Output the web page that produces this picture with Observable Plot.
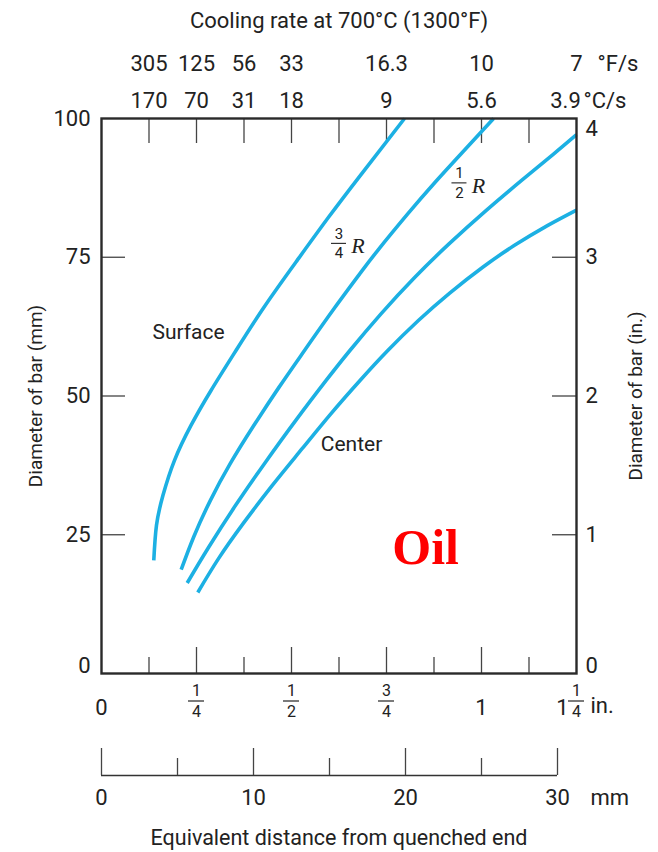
<!DOCTYPE html>
<html>
<head>
<meta charset="utf-8">
<script src="https://cdn.jsdelivr.net/npm/d3@7"></script>
<script src="https://cdn.jsdelivr.net/npm/@observablehq/plot@0.6"></script>
<style>
  body { margin: 0; background: #fff; }
  #chart svg { display: block; }
</style>
</head>
<body>
<div id="chart"></div>
<script>
// ---- Curve data: x = equivalent distance (in.), y = bar diameter (mm) ----
const surfaceX = [0.1376, 0.1447, 0.1618, 0.1921, 0.2355, 0.2882, 0.3539, 0.4276, 0.5145, 0.5974, 0.6829, 0.7974];
const surfaceY = [20.4, 26.7, 32.1, 38.4, 44.7, 51.0, 58.2, 66.0, 74.4, 82.2, 89.9, 100];

const threeQuarterX = [0.2097, 0.2426, 0.2866, 0.3387, 0.3982, 0.4674, 0.5342, 0.6084, 0.6795, 0.7266, 0.8058, 0.8739, 0.9458, 1.0318];
const threeQuarterY = [18.7, 24.6, 31.2, 37.8, 44.4, 51.6, 58.2, 65.4, 72.0, 76.2, 82.8, 88.2, 93.6, 100];

const halfX = [0.2255, 0.2816, 0.3529, 0.4287, 0.5113, 0.5911, 0.6537, 0.7355, 0.8247, 0.9145, 1.0118, 1.1047, 1.1895, 1.25];
const halfY = [16.3, 22.7, 30.3, 37.8, 45.6, 52.8, 58.2, 64.8, 71.4, 77.4, 83.4, 88.8, 93.6, 97.1];

const centerX = [0.2534, 0.3079, 0.3726, 0.4495, 0.5279, 0.6024, 0.6803, 0.7534, 0.8339, 0.9155, 1.0032, 1.0858, 1.1734, 1.25];
const centerY = [14.6, 20.7, 27.0, 33.9, 40.5, 46.7, 52.8, 58.2, 63.6, 68.5, 73.2, 77.1, 80.7, 83.5];

// ---- Axis / tick data ----
const diameterMmTicks = [0, 25, 50, 75, 100];
const diameterInLabels = ["0", "1", "2", "3", "4"];
const distanceMajor = [0.25, 0.5, 0.75, 1];
const distanceMinor = [0.125, 0.375, 0.625, 0.875, 1.125];
const topTicks = [0.125, 0.25, 0.375, 0.5, 0.625, 0.75, 0.875, 1, 1.125];
const coolingPos = [0.125, 0.25, 0.375, 0.5, 0.75, 1, 1.25];
const coolingF = ["305", "125", "56", "33", "16.3", "10", "7"];
const coolingC = ["170", "70", "31", "18", "9", "5.6", "3.9"];
const fracPos = [0.25, 0.5, 0.75, 1.25];
const fracNum = ["1", "1", "3", "1"];
const fracDen = ["4", "2", "4", "4"];
const wholePos = [0, 1];
const wholeText = ["0", "1"];
const mmMajor = [0, 10, 20, 30];
const mmMinor = [5, 15, 25];
const mmPerInchAsDrawn = 25;

// ---- Labels ----
const curveLabels = [
  {x: 0.229, y: 61.4, text: "Surface"},
  {x: 0.658, y: 41.3, text: "Center"}
];
const radiusLabels = [
  {x: 0.625, y: 77.5, num: "3", den: "4"},
  {x: 0.942, y: 88.4, num: "1", den: "2"}
];
const quenchant = [{x: 0.853, y: 22.6, text: "Oil"}];

const series = [
  ...surfaceX.map((x, i) => ({name: "Surface", x, y: surfaceY[i]})),
  ...threeQuarterX.map((x, i) => ({name: "3/4 R", x, y: threeQuarterY[i]})),
  ...halfX.map((x, i) => ({name: "1/2 R", x, y: halfY[i]})),
  ...centerX.map((x, i) => ({name: "Center", x, y: centerY[i]}))
];
const cooling = coolingPos.map((p, i) => ({p, f: coolingF[i], c: coolingC[i]}));
const fracs = fracPos.map((p, i) => ({p, num: fracNum[i], den: fracDen[i]}));

const W = 658, H = 852;
const mT = 118, mR = 82, mB = 179, mL = 101;
const FH = H - mT - mB, FW = W - mL - mR;
const tickC = "#444";
const blue = "#1cb0e3";
const ink = "#222";
const serif = "'Liberation Serif', 'DejaVu Serif', serif";
const mid = {lineAnchor: "middle"};

const chart = Plot.plot({
  width: W, height: H,
  marginTop: mT, marginRight: mR, marginBottom: mB, marginLeft: mL,
  x: {domain: [0, 1.25], axis: null},
  y: {domain: [0, 100], axis: null},
  style: {fontFamily: "Roboto, 'Liberation Sans', sans-serif", fontSize: "22px", color: ink, background: "#fff"},
  marks: [
    // inner ticks
    Plot.tickX(distanceMajor, {x: d => d, insetTop: FH - 26, stroke: tickC, strokeWidth: 1.3}),
    Plot.tickX(distanceMinor, {x: d => d, insetTop: FH - 16, stroke: tickC, strokeWidth: 1.3}),
    Plot.tickX(topTicks, {x: d => d, insetBottom: FH - 25, stroke: tickC, strokeWidth: 1.3}),
    Plot.tickY([25, 50, 75], {y: d => d, insetRight: FW - 24, stroke: tickC, strokeWidth: 1.3}),
    Plot.tickY([25, 50, 75], {y: d => d, insetLeft: FW - 24, stroke: tickC, strokeWidth: 1.3}),
    // curves
    Plot.line(series, {x: "x", y: "y", z: "name", stroke: blue, strokeWidth: 3.6, curve: "natural", strokeLinecap: "butt"}),
    Plot.frame({stroke: "#2a2a2a", strokeWidth: 2.4}),
    // left axis labels
    Plot.text(diameterMmTicks.filter(d => d > 0), {y: d => d, text: d => String(d), frameAnchor: "left", textAnchor: "end", lineAnchor: "middle", dx: -11, fontSize: 22}),
    Plot.text([0], {y: d => d, text: d => String(d), frameAnchor: "left", textAnchor: "end", lineAnchor: "middle", dx: -11, dy: -8, fontSize: 22}),
    Plot.text(["Diameter of bar (mm)"], {text: d => d, frameAnchor: "left", textAnchor: "middle", lineAnchor: "middle", rotate: -90, dx: -66, fontSize: 19}),
    // right axis labels
    Plot.text([25, 50, 75], {y: d => d, text: d => diameterInLabels[d / 25], frameAnchor: "right", textAnchor: "start", lineAnchor: "middle", dx: 9, fontSize: 22}),
    Plot.text([100], {y: d => d, text: d => diameterInLabels[d / 25], frameAnchor: "right", textAnchor: "start", lineAnchor: "middle", dx: 9, dy: 10, fontSize: 22}),
    Plot.text([0], {y: d => d, text: d => diameterInLabels[d / 25], frameAnchor: "right", textAnchor: "start", lineAnchor: "middle", dx: 9, dy: -8, fontSize: 22}),
    Plot.text(["Diameter of bar (in.)"], {text: d => d, frameAnchor: "right", textAnchor: "middle", lineAnchor: "middle", rotate: -90, dx: 59, fontSize: 19}),
    // top cooling-rate scale
    Plot.text(["Cooling rate at 700°C (1300°F)"], {text: d => d, frameAnchor: "top", ...mid, dy: -98, fontSize: 22}),
    Plot.text(cooling, {x: "p", text: "f", frameAnchor: "top", ...mid, dy: -55, fontSize: 22}),
    Plot.text(cooling.slice(0, -1), {x: "p", text: "c", frameAnchor: "top", ...mid, dy: -18, fontSize: 22}),
    Plot.text(cooling.slice(-1), {x: "p", text: "c", frameAnchor: "top", ...mid, dy: -18, dx: -11, fontSize: 22}),
    Plot.text(cooling.slice(-1), {x: "p", text: () => "°F/s", frameAnchor: "top", textAnchor: "start", ...mid, dy: -55, dx: 21, fontSize: 22}),
    Plot.text(cooling.slice(-1), {x: "p", text: () => "°C/s", frameAnchor: "top", textAnchor: "start", ...mid, dy: -18, dx: 7, fontSize: 22}),
    // bottom inch scale
    Plot.text(wholePos, {x: d => d, text: (d, i) => wholeText[i], frameAnchor: "bottom", ...mid, dy: 34, fontSize: 22}),
    Plot.text(fracs, {x: "p", text: "num", frameAnchor: "bottom", ...mid, dy: 17, fontSize: 16}),
    Plot.ruleY(fracs, {x1: "p", x2: "p", y: () => 0, insetLeft: -8, insetRight: -8, dy: 27.5, stroke: ink, strokeWidth: 1.2}),
    Plot.text(fracs, {x: "p", text: "den", frameAnchor: "bottom", ...mid, dy: 38.5, fontSize: 16}),
    Plot.text(fracs.slice(-1), {x: "p", text: () => "1", frameAnchor: "bottom", ...mid, dx: -14, dy: 34, fontSize: 22}),
    Plot.text(fracs.slice(-1), {x: "p", text: () => "in.", frameAnchor: "bottom", textAnchor: "start", ...mid, dx: 14, dy: 32, fontSize: 22}),
    // bottom mm scale
    Plot.ruleY([0], {x1: mmMajor[0] / mmPerInchAsDrawn, x2: mmMajor[mmMajor.length - 1] / mmPerInchAsDrawn, dy: 102, stroke: "#333", strokeWidth: 1.6}),
    Plot.tickX(mmMajor, {x: d => d / mmPerInchAsDrawn, insetTop: FH - 27, dy: 102, stroke: tickC, strokeWidth: 1.3}),
    Plot.tickX(mmMinor, {x: d => d / mmPerInchAsDrawn, insetTop: FH - 17, dy: 102, stroke: tickC, strokeWidth: 1.3}),
    Plot.text(mmMajor, {x: d => d / mmPerInchAsDrawn, text: d => String(d), frameAnchor: "bottom", ...mid, dy: 124, fontSize: 22}),
    Plot.text(mmMajor.slice(-1), {x: d => d / mmPerInchAsDrawn, text: () => "mm", frameAnchor: "bottom", textAnchor: "start", ...mid, dx: 33, dy: 124, fontSize: 22}),
    Plot.text(["Equivalent distance from quenched end"], {text: d => d, frameAnchor: "bottom", ...mid, dy: 165, fontSize: 21.5}),
    // curve annotations
    Plot.text(curveLabels, {x: "x", y: "y", text: "text", fontSize: 21}),
    Plot.text(radiusLabels, {x: "x", y: "y", text: "num", dy: -9.5, fontSize: 15}),
    Plot.ruleY(radiusLabels, {x1: "x", x2: "x", y: "y", insetLeft: -7.5, insetRight: -7.5, stroke: ink, strokeWidth: 1.1}),
    Plot.text(radiusLabels, {x: "x", y: "y", text: "den", dy: 10, fontSize: 15}),
    Plot.text(radiusLabels, {x: "x", y: "y", text: () => "R", dx: 19, dy: 3, fontSize: 22, fontStyle: "italic", fontFamily: serif}),
    Plot.text(quenchant, {x: "x", y: "y", text: "text", fill: "#ff0000", fontSize: 50, fontWeight: "bold", fontFamily: serif})
  ]
});
document.getElementById("chart").append(chart);
</script>
</body>
</html>
